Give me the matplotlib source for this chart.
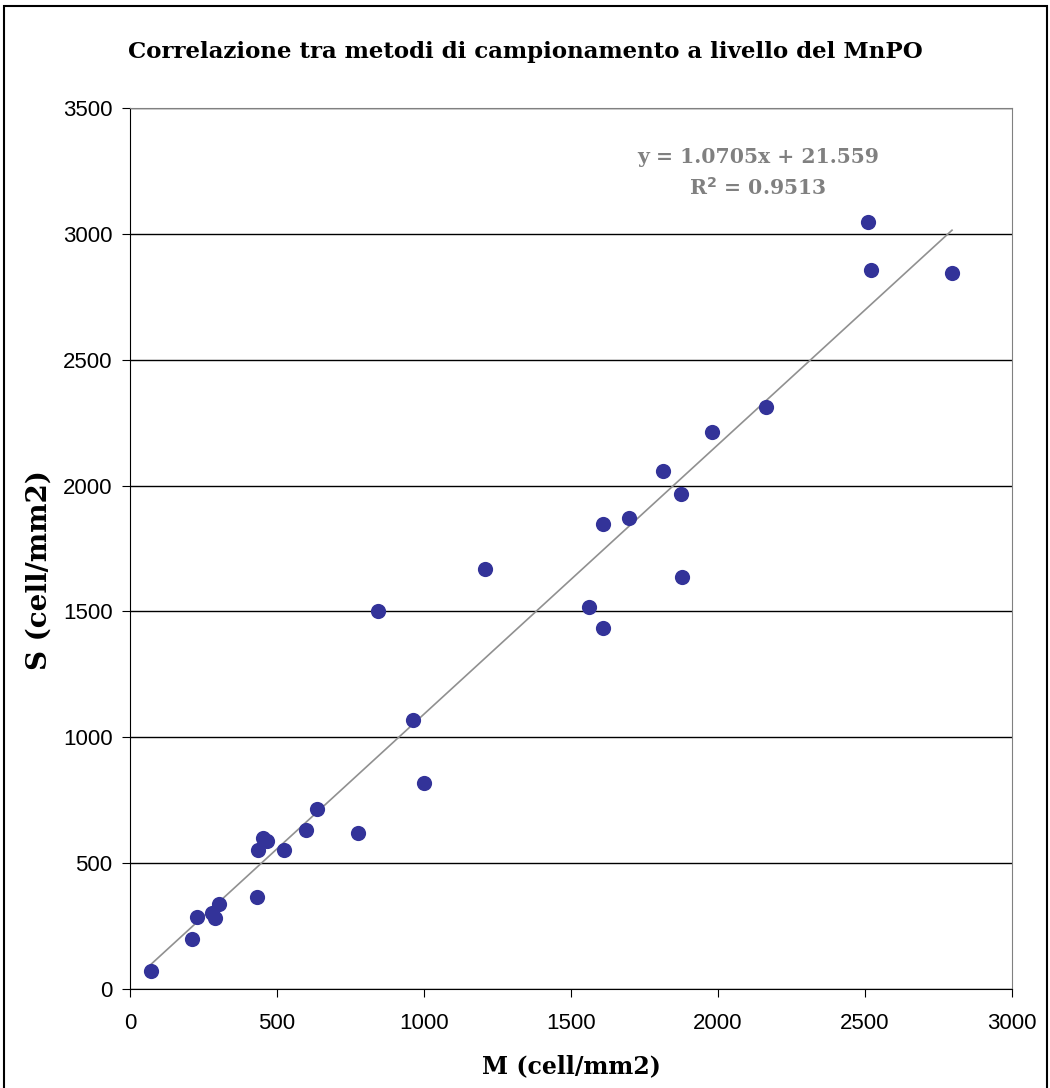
import numpy as np
import matplotlib.pyplot as plt
from matplotlib.patches import Rectangle

# dati
m_vals = [70, 210, 227, 278, 289, 304, 433, 436, 453, 465, 524, 598, 635, 777, 1000,
          963, 844, 1207, 1561, 1609, 1609, 1697, 1813, 1874, 1878, 1980, 2163,
          2509, 2519, 2796]
s_vals = [70, 199, 287, 301, 281, 336, 367, 552, 599, 588, 552, 632, 714, 621, 817,
          1069, 1502, 1669, 1518, 1434, 1847, 1871, 2058, 1967, 1637, 2213, 2312,
          3047, 2857, 2843]
slope = 1.0705
intercept = 21.559
r2 = 0.9513

serif = ['DejaVu Serif']
fig = plt.figure(figsize=(10.5, 10.88), dpi=100)
ax = fig.add_axes([0.1238, 0.0910, 0.8400, 0.8097])

ax.set_axisbelow(True)
ax.grid(axis='y', color='black', linewidth=1)
ax.scatter(m_vals, s_vals, s=120, color='#333399', zorder=3, linewidths=0)

xl = np.array([min(m_vals), max(m_vals)])
ax.plot(xl, slope * xl + intercept, color='#909090', linewidth=1.2, zorder=2)

ax.set_xlim(0, 3000)
ax.set_ylim(0, 3500)
ax.set_xticks(range(0, 3001, 500))
ax.set_yticks(range(0, 3501, 500))
ax.tick_params(labelsize=16, length=5.5, direction='out', color='black')
for lab in ax.get_xticklabels() + ax.get_yticklabels():
    lab.set_family('Liberation Sans')
ax.tick_params(axis='x', pad=12)
ax.tick_params(axis='y', pad=7)

for sp in ['top', 'right']:
    ax.spines[sp].set_color('#808080')
for sp in ['left', 'bottom']:
    ax.spines[sp].set_color('black')

ax.set_xlabel('M (cell/mm2)', family=serif, fontweight='bold', fontsize=17, labelpad=14)
ax.set_ylabel('S (cell/mm2)', family=serif, fontweight='bold', fontsize=20)
ax.yaxis.set_label_coords(-0.088, 0.4756)
fig.text(0.5, 0.952, 'Correlazione tra metodi di campionamento a livello del MnPO',
         family=serif, fontweight='bold', fontsize=16.5, ha='center', va='center')

ax.text(2136, 3305, 'y = 1.0705x + 21.559', family=serif, fontweight='bold',
        fontsize=14.7, color='#808080', ha='center', va='center')
ax.text(2136, 3182, r'R$^\mathbf{2}$ = 0.9513', family=serif, fontweight='bold',
        fontsize=14.7, color='#808080', ha='center', va='center')

fig.patches.append(Rectangle((0.004, -0.01), 0.993, 1.0045, transform=fig.transFigure,
                             fill=False, edgecolor='black', linewidth=1.5))

fig.savefig('out.png', dpi=100)
